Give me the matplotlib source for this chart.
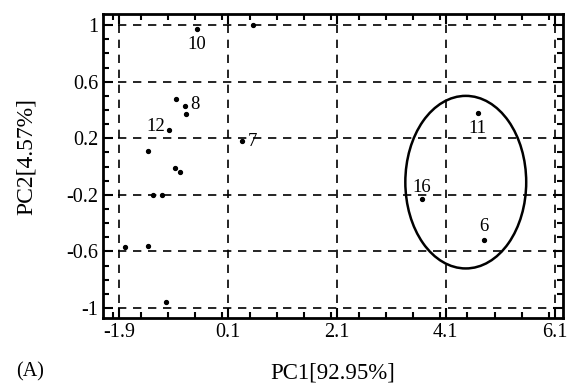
import matplotlib
matplotlib.use("Agg")
import matplotlib.pyplot as plt
from matplotlib.patches import Ellipse
from matplotlib.ticker import MultipleLocator

# PCA scores
pc1 = [-0.47, 0.56, -0.85, -0.69, -0.67, -0.98, 0.36, -1.37, -0.87, -0.78,
       -1.28, -1.11, -1.79, -1.37, -1.04, 4.69, 3.66, 4.80]
pc2 = [0.97, 1.00, 0.48, 0.43, 0.37, 0.26, 0.18, 0.11, -0.01, -0.04,
       -0.20, -0.20, -0.57, -0.56, -0.96, 0.38, -0.23, -0.52]

# labelled samples: (name, x, y)
lab_names = ["10", "8", "12", "7", "11", "16", "6"]
lab_x = [-0.47, -0.50, -1.22, 0.55, 4.69, 3.67, 4.80]
lab_y = [0.86, 0.44, 0.28, 0.18, 0.27, -0.15, -0.42]

xticks = [-1.9, 0.1, 2.1, 4.1, 6.1]
yticks = [-1, -0.6, -0.2, 0.2, 0.6, 1]

plt.rcParams['font.family'] = ['Liberation Serif', 'DejaVu Serif']

fig = plt.figure(figsize=(5.73, 3.84), dpi=100)
ax = fig.add_axes([0.18, 0.172, 0.802, 0.792])

ax.plot(pc1, pc2, 'o', color='black', markersize=2.8)
for name, x, y in zip(lab_names, lab_x, lab_y):
    ax.text(x, y, name, fontsize=13.5, ha='center', va='center')

# cluster ellipse around samples 11, 16, 6
ell = Ellipse((4.47, -0.11), 2.22, 1.22, fill=False, edgecolor='black', linewidth=1.8)
ax.add_patch(ell)

ax.set_xlim(-2.19, 6.25)
ax.set_ylim(-1.07, 1.08)
ax.set_xticks(xticks)
ax.set_xticklabels(['-1.9', '0.1', '2.1', '4.1', '6.1'])
ax.set_yticks(yticks)
ax.set_yticklabels(['-1', '-0.6', '-0.2', '0.2', '0.6', '1'])
ax.xaxis.set_minor_locator(MultipleLocator(0.5))
ax.yaxis.set_minor_locator(MultipleLocator(0.1))
ax.tick_params(which='both', direction='in', top=True, right=True, width=1.5, labelsize=14.5)
ax.tick_params(which='major', length=7)
ax.tick_params(which='minor', length=4)
ax.grid(True, which='major', color='black', linestyle=(0, (5, 4)), linewidth=1.2)
for s in ax.spines.values():
    s.set_linewidth(2)

ax.set_xlabel('PC1[92.95%]', fontsize=16.5, labelpad=15)
ax.set_ylabel('PC2[4.57%]', fontsize=17)
ax.yaxis.set_label_coords(-0.145, 0.53)
fig.text(0.052, 0.02, '(A)', fontsize=14.5, ha='center')

fig.savefig('out.png', dpi=100)
